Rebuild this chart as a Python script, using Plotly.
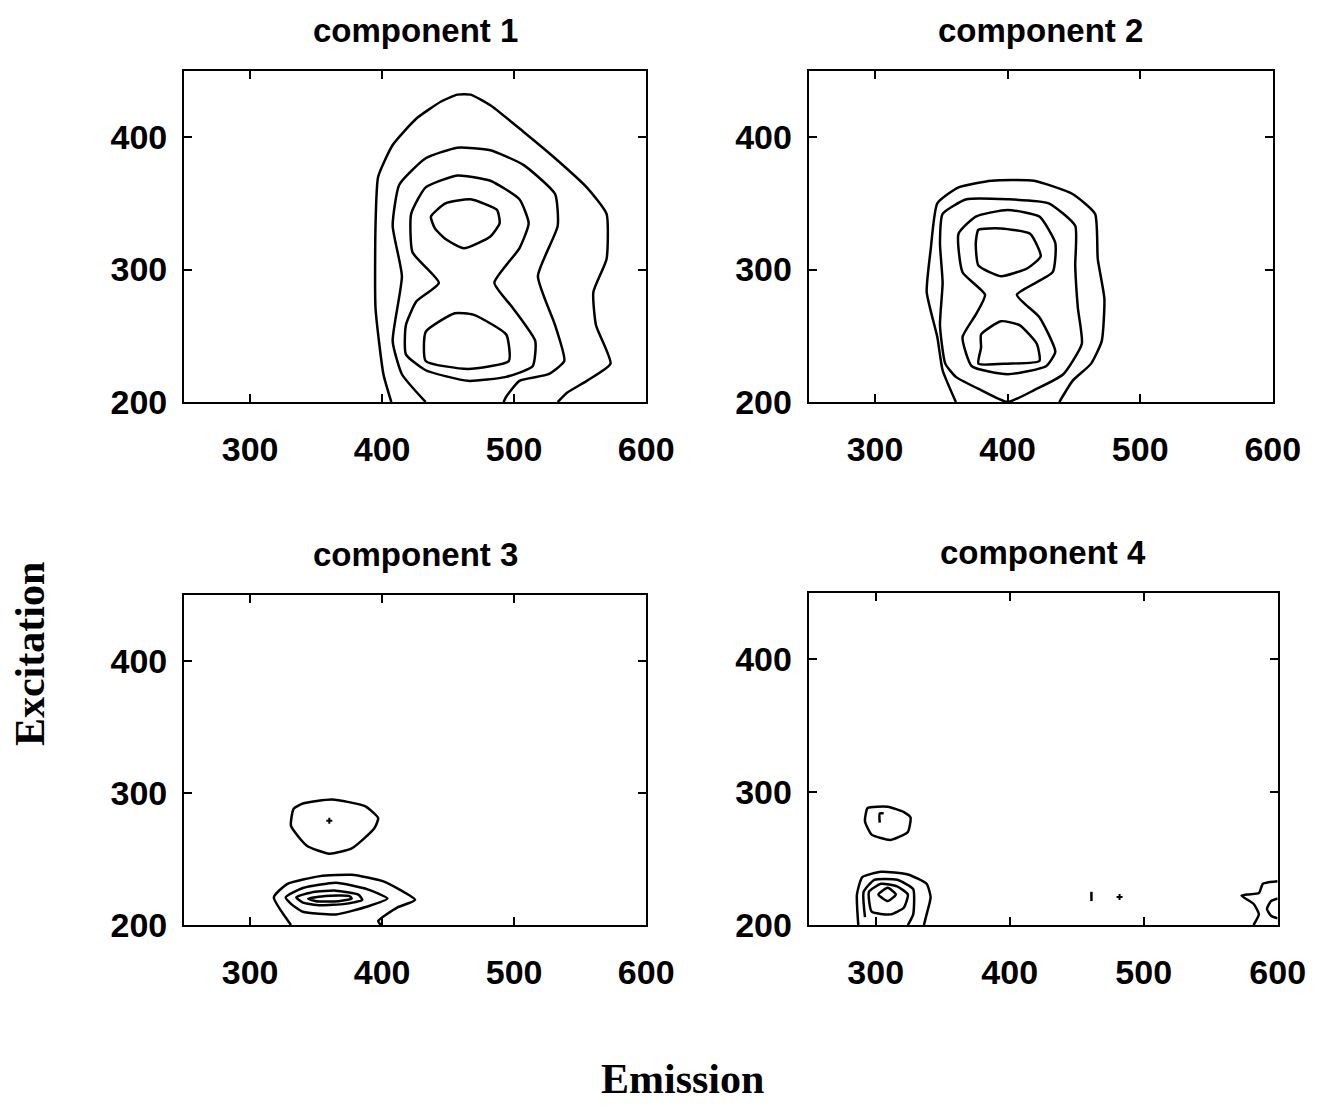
import plotly.graph_objects as go

# ---------- data (contour lines; x = Emission, y = Excitation) ----------
TITLES = ["component 1", "component 2", "component 3", "component 4"]
X_TICKS = [300, 400, 500, 600]
Y_TICKS = [200, 300, 400]

# component 1
C1_OUTER_X = [407, 401, 395, 395, 397, 408, 426, 445, 457, 467, 482, 507, 531, 555, 570, 570, 560, 562, 573, 555, 540, 533]
C1_OUTER_Y = [200, 221, 271, 333, 370, 394, 414, 427, 432, 432, 424, 404, 384, 362, 342, 308, 283, 258, 229, 216, 207, 200]
C1_SECOND_X = [433, 415, 408, 415, 408, 413, 433, 457, 482, 507, 531, 533, 518, 531, 538, 526, 504, 494, 492]
C1_SECOND_Y = [200, 221, 246, 295, 333, 364, 384, 392, 390, 379, 357, 333, 295, 258, 231, 221, 216, 204, 200]
C1_THIRD_X = [443, 423, 422, 433, 457, 482, 504, 511, 504, 485, 499, 516, 514, 494, 465, 433, 418, 418, 426, 443]
C1_THIRD_Y = [290, 313, 342, 362, 371, 367, 353, 335, 316, 290, 271, 246, 227, 219, 216, 224, 236, 258, 276, 290]
C1_TOP_X = [437, 448, 467, 487, 489, 482, 462, 448, 440, 437]
C1_TOP_Y = [340, 350, 353, 345, 335, 325, 316, 323, 331, 340]
C1_BOT_X = [433, 455, 469, 494, 496, 465, 433, 433]
C1_BOT_Y = [253, 267, 266, 251, 231, 225, 231, 253]

# component 2
C2_OUTER_X = [361, 351, 347, 339, 342, 347, 363, 388, 420, 449, 466, 468, 473, 471, 463, 449, 439]
C2_OUTER_Y = [200, 224, 249, 283, 315, 350, 362, 367, 367, 357, 342, 308, 278, 246, 229, 216, 200]
C2_SECOND_X = [353, 349, 351, 349, 351, 369, 400, 431, 451, 451, 453, 456, 442, 420, 400, 380, 361, 353]
C2_SECOND_Y = [229, 258, 290, 320, 342, 353, 353, 350, 333, 303, 271, 244, 221, 209, 200, 209, 219, 229]
C2_THIRD_X = [383, 366, 363, 376, 400, 424, 436, 434, 407, 424, 436, 429, 400, 373, 366, 376, 383]
C2_THIRD_Y = [281, 298, 327, 340, 345, 340, 320, 298, 281, 264, 238, 227, 221, 227, 249, 266, 281]
C2_TOP_X = [376, 378, 395, 417, 425, 415, 395, 378, 376]
C2_TOP_Y = [320, 330, 331, 327, 310, 301, 295, 303, 320]
C2_BOT_X = [380, 395, 409, 422, 424, 400, 378, 380, 380]
C2_BOT_Y = [251, 261, 258, 244, 231, 229, 229, 241, 251]

# component 3
C3_TOP_X = [333, 331, 343, 360, 377, 394, 397, 387, 362, 340, 333]
C3_TOP_Y = [288, 275, 260, 254, 258, 273, 281, 290, 295, 292, 288]
C3_DOT_X = [360]
C3_DOT_Y = [279]
C3_OUTER_X = [331, 318, 328, 353, 377, 401, 425, 411, 397, 399]
C3_OUTER_Y = [200, 221, 231, 237, 238, 233, 219, 213, 203, 200]
C3_SECOND_X = [327, 340, 365, 389, 404, 389, 365, 340, 331, 327]
C3_SECOND_Y = [221, 228, 232, 227, 220, 214, 208, 210, 216, 221]
C3_THIRD_X = [335, 348, 365, 382, 385, 372, 353, 340, 335]
C3_THIRD_Y = [221, 225, 226, 223, 219, 216, 215, 217, 221]
C3_INNER_X = [344, 357, 375, 377, 367, 350, 344]
C3_INNER_Y = [220, 222, 222, 220, 218, 218, 220]

# component 4
C4_TOP_X = [294, 292, 297, 311, 324, 326, 321, 309, 294]
C4_TOP_Y = [288, 278, 268, 264, 270, 281, 285, 289, 288]
C4_MARK_X = [303, 303, 306]
C4_MARK_Y = [277, 284, 284]
C4_OUTER_X = [287, 286, 290, 304, 324, 338, 341, 338, 336]
C4_OUTER_Y = [200, 223, 236, 240, 238, 231, 221, 208, 200]
C4_SECOND_X = [292, 291, 299, 316, 328, 328, 324]
C4_SECOND_Y = [206, 225, 234, 234, 227, 208, 200]
C4_THIRD_X = [297, 295, 304, 316, 324, 321, 311, 297]
C4_THIRD_Y = [210, 225, 231, 229, 223, 213, 208, 210]
C4_INNER_X = [302, 309, 315, 309, 302]
C4_INNER_Y = [223, 228, 223, 218, 223]
C4_EDGE_X = [600, 589, 586, 578, 573, 582, 586, 582]
C4_EDGE_Y = [233, 231, 224, 223, 222, 216, 208, 200]
C4_EDGE2_X = [600, 595, 592, 595, 600]
C4_EDGE2_Y = [220, 218, 212, 207, 205]
C4_SPECK_X = [461, 461]
C4_SPECK_Y = [218, 225]
C4_DOT_X = [482]
C4_DOT_Y = [221]

PANELS = [
    [(C1_OUTER_X, C1_OUTER_Y), (C1_SECOND_X, C1_SECOND_Y), (C1_THIRD_X, C1_THIRD_Y),
     (C1_TOP_X, C1_TOP_Y), (C1_BOT_X, C1_BOT_Y)],
    [(C2_OUTER_X, C2_OUTER_Y), (C2_SECOND_X, C2_SECOND_Y), (C2_THIRD_X, C2_THIRD_Y),
     (C2_TOP_X, C2_TOP_Y), (C2_BOT_X, C2_BOT_Y)],
    [(C3_TOP_X, C3_TOP_Y), (C3_OUTER_X, C3_OUTER_Y), (C3_SECOND_X, C3_SECOND_Y),
     (C3_THIRD_X, C3_THIRD_Y), (C3_INNER_X, C3_INNER_Y)],
    [(C4_TOP_X, C4_TOP_Y), (C4_MARK_X, C4_MARK_Y), (C4_OUTER_X, C4_OUTER_Y),
     (C4_SECOND_X, C4_SECOND_Y), (C4_THIRD_X, C4_THIRD_Y), (C4_INNER_X, C4_INNER_Y),
     (C4_EDGE_X, C4_EDGE_Y), (C4_EDGE2_X, C4_EDGE2_Y), (C4_SPECK_X, C4_SPECK_Y)],
]
DOTS = {2: (C3_DOT_X, C3_DOT_Y), 3: (C4_DOT_X, C4_DOT_Y)}

# ---------- layout ----------
W, H = 1337, 1118
X_DOMAINS = [(188 / W, 660 / W), (826 / W, 1300 / W), (188 / W, 660 / W), (826 / W, 1305 / W)]
Y_DOMAINS = [(1 - 409 / H, 1 - 72 / H), (1 - 409 / H, 1 - 72 / H),
             (1 - 941 / H, 1 - 605 / H), (1 - 941 / H, 1 - 603 / H)]

fig = go.Figure()
for i, paths in enumerate(PANELS):
    xa = "x" if i == 0 else f"x{i+1}"
    ya = "y" if i == 0 else f"y{i+1}"
    for px, py in paths:
        fig.add_trace(go.Scatter(x=px, y=py, mode="lines", xaxis=xa, yaxis=ya,
                                 line=dict(color="black", width=2.5, shape="spline", smoothing=0.5),
                                 showlegend=False, hoverinfo="skip"))
    if i in DOTS:
        dx, dy = DOTS[i]
        fig.add_trace(go.Scatter(x=dx, y=dy, mode="markers", xaxis=xa, yaxis=ya,
                                 marker=dict(color="black", size=5, symbol="cross"),
                                 showlegend=False, hoverinfo="skip"))

tick_font = dict(family="Liberation Sans, Arial", size=34, color="black", weight="bold")
layout = dict(width=W, height=H, margin=dict(l=0, r=0, t=0, b=0),
              paper_bgcolor="white", plot_bgcolor="white", showlegend=False)
annotations = []
for i in range(4):
    sfx = "" if i == 0 else str(i + 1)
    layout[f"xaxis{sfx}"] = dict(
        domain=list(X_DOMAINS[i]), range=[250, 600], anchor=f"y{sfx}",
        tickvals=X_TICKS, ticks="inside", ticklen=8, tickwidth=1.5, tickcolor="black",
        showline=True, linecolor="black", linewidth=2, mirror="ticks",
        showgrid=False, zeroline=False, tickfont=tick_font, ticklabelstandoff=16)
    layout[f"yaxis{sfx}"] = dict(
        domain=list(Y_DOMAINS[i]), range=[200, 450], anchor=f"x{sfx}",
        tickvals=Y_TICKS, ticks="inside", ticklen=8, tickwidth=1.5, tickcolor="black",
        showline=True, linecolor="black", linewidth=2, mirror="ticks",
        showgrid=False, zeroline=False, tickfont=tick_font, ticklabelstandoff=8)
    cx = (X_DOMAINS[i][0] + X_DOMAINS[i][1]) / 2
    annotations.append(dict(text="<b>" + TITLES[i] + "</b>", x=cx, y=Y_DOMAINS[i][1],
                            xref="paper", yref="paper",
                            xanchor="center", yanchor="bottom", yshift=20, showarrow=False,
                            font=dict(family="Liberation Sans, Arial", size=33, color="black")))

annotations.append(dict(text="<b>Excitation</b>", x=30 / W, y=1 - 665 / H, xref="paper", yref="paper",
                        textangle=-90, showarrow=False, xanchor="center", yanchor="middle",
                        font=dict(family="Liberation Serif, Times New Roman", size=42, color="black")))
annotations.append(dict(text="<b>Emission</b>", x=697 / W, y=1 - 1098 / H, xref="paper", yref="paper",
                        showarrow=False, xanchor="center", yanchor="middle",
                        font=dict(family="Liberation Serif, Times New Roman", size=42, color="black")))
layout["annotations"] = annotations
fig.update_layout(**layout)
fig.write_html("out.html")
